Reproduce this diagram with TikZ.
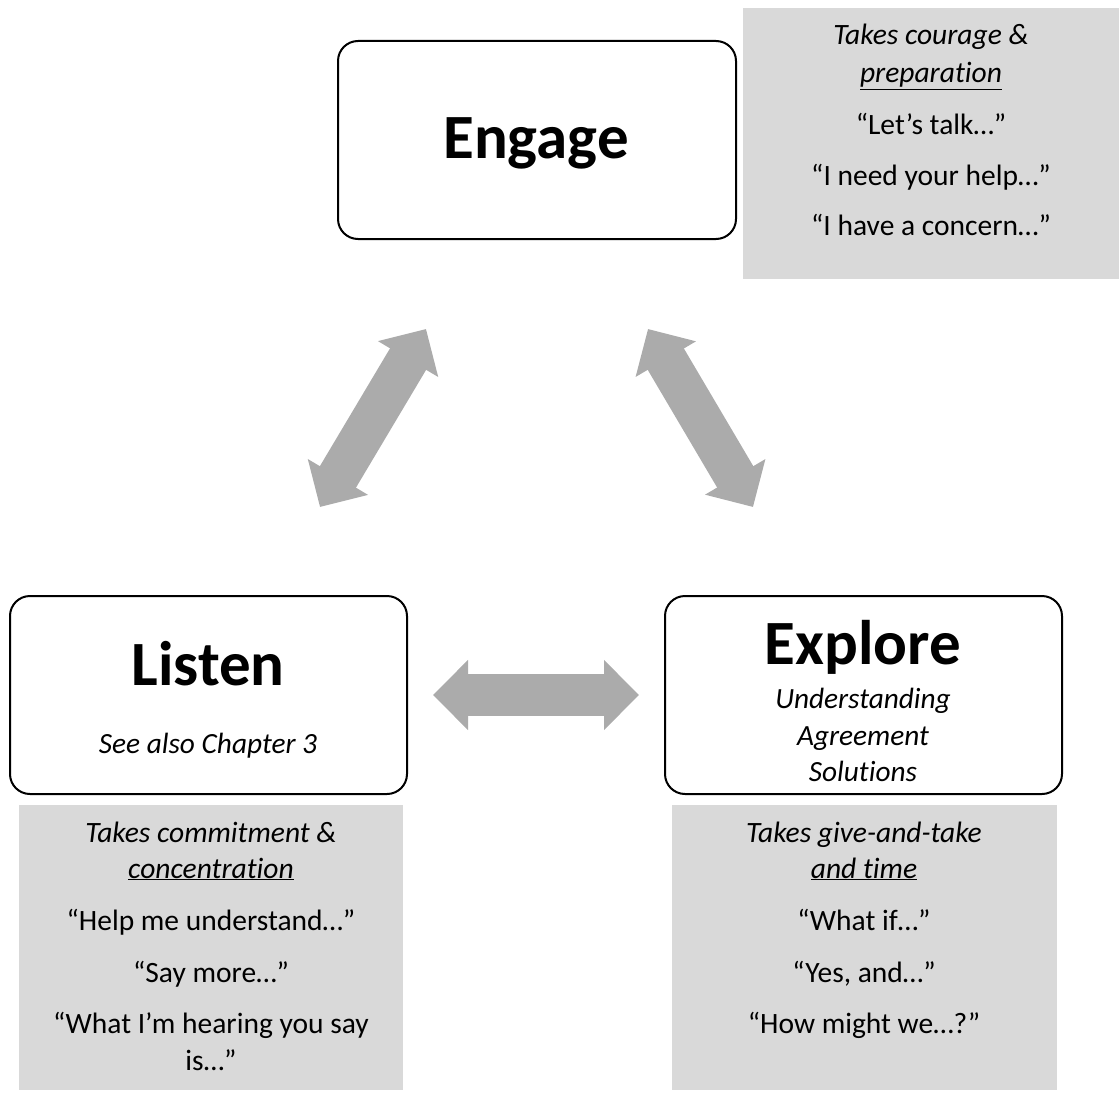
\documentclass[tikz,border=0pt]{standalone}
\usepackage{fontspec}
\setmainfont{Carlito}[Ligatures=NoCommon]
\usetikzlibrary{arrows.meta}
\definecolor{boxgrey}{HTML}{D9D9D9}
\definecolor{arrowgrey}{HTML}{ABABAB}
\tikzset{
  stagebox/.style={draw=black, line width=2pt, rounded corners=20pt, fill=white},
  greybox/.style={fill=boxgrey, draw=none},
  headtxt/.style={font=\fontsize{63}{70}\selectfont\bfseries, anchor=base, inner sep=0pt},
  subtxt/.style={font=\fontsize{29.3}{34}\selectfont\itshape, anchor=base, inner sep=0pt},
  bodytxt/.style={font=\fontsize{29.5}{34}\selectfont, anchor=base, inner sep=0pt},
  bodyit/.style={font=\fontsize{29.5}{34}\selectfont\itshape, anchor=base, inner sep=0pt},
  bigarrow/.style={draw=arrowgrey, line width=42pt,
    {Triangle[length=35pt 0 0, width=68pt 0 0, fill=arrowgrey]}-{Triangle[length=35pt 0 0, width=68pt 0 0, fill=arrowgrey]}}
}
\begin{document}
\begin{tikzpicture}[x=1pt,y=-1pt]
\useasboundingbox (0,0) rectangle (1119,1097);
% stage boxes
\draw[stagebox] (338,41) rectangle (736,239);
\node[inner sep=0pt] (engage) at (537,140) {};
\node[headtxt] (engaget) at (536,158) {Engage};
\draw[stagebox] (10,596) rectangle (407,794);
\node[inner sep=0pt] (listen) at (208,695) {};
\node[headtxt] (listent) at (208,685) {Listen};
\node[subtxt] (listens) at (208,753) {See also Chapter 3};
\draw[stagebox] (665,596) rectangle (1062,794);
\node[inner sep=0pt] (explore) at (863,695) {};
\node[headtxt] (exploret) at (863,664) {Explore};
\node[subtxt] (explore1) at (863,708) {Understanding};
\node[subtxt] (explore2) at (863,745) {Agreement};
\node[subtxt] (explore3) at (863,781) {Solutions};
% grey boxes
\fill[greybox] (743,8) rectangle (1119,279);
\node[bodyit] (e1) at (931,45) {Takes courage \&};
\node[bodyit] (e2) at (931,83) {\underline{preparation}};
\node[bodytxt] (e3) at (931,135) {“Let’s talk…”};
\node[bodytxt] (e4) at (931,185) {“I need your help…”};
\node[bodytxt] (e5) at (931,235) {“I have a concern…”};
\fill[greybox] (19,805) rectangle (403,1090);
\node[bodyit] (l1) at (211,842) {Takes commitment \&};
\node[bodyit] (l2) at (211,878) {\underline{concentration}};
\node[bodytxt] (l3) at (211,930) {“Help me understand…”};
\node[bodytxt] (l4) at (211,982) {“Say more…”};
\node[bodytxt] (l5) at (211,1033) {“What I’m hearing you say};
\node[bodytxt] (l6) at (211,1070) {is…”};
\fill[greybox] (672,805) rectangle (1057,1090);
\node[bodyit] (x1) at (864,842) {Takes give-and-take};
\node[bodyit] (x2) at (864,878) {\underline{and time}};
\node[bodytxt] (x3) at (864,930) {“What if…”};
\node[bodytxt] (x4) at (864,982) {“Yes, and…”};
\node[bodytxt] (x5) at (864,1033) {“How might we…?”};
% arrow ends
\coordinate (a1) at (426,329);
\coordinate (a2) at (320,507);
\coordinate (b1) at (648,329);
\coordinate (b2) at (753,507);
\coordinate (c1) at (433,695);
\coordinate (c2) at (639,695);
\draw[bigarrow] (a2) -- (a1);
\draw[bigarrow] (b1) -- (b2);
\draw[bigarrow] (c1) -- (c2);
\end{tikzpicture}
\end{document}
